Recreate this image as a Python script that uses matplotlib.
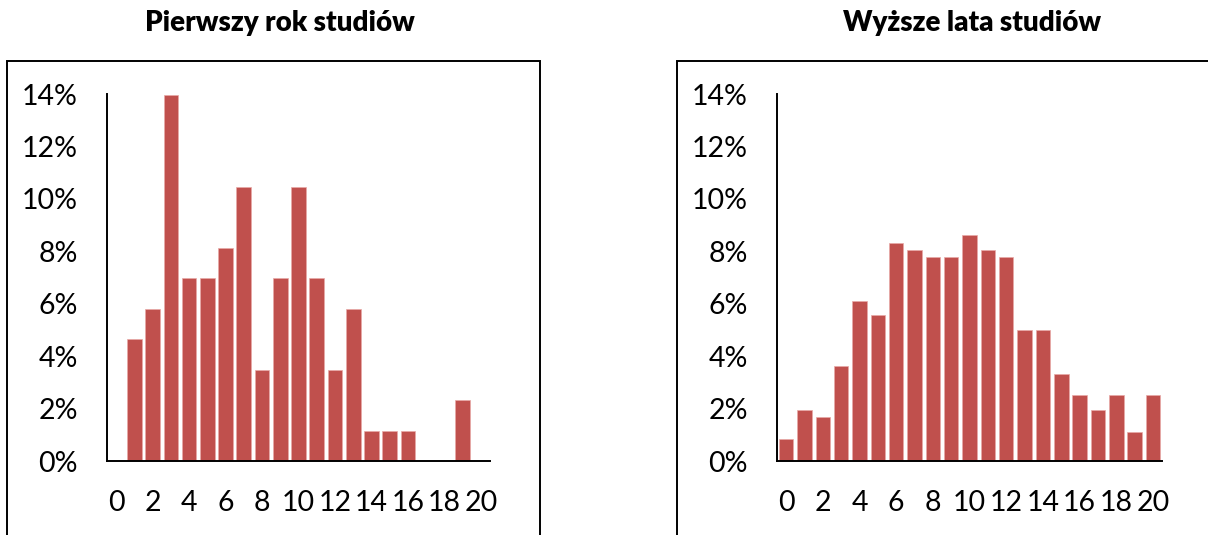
import matplotlib
matplotlib.use("Agg")
import matplotlib.pyplot as plt
from matplotlib.patches import Rectangle

plt.rcParams['font.family'] = ['Lato', 'DejaVu Sans']

# punkty (0-20) i odsetek studentow w %
points = list(range(21))
first_year = [0, 4.65, 5.81, 13.95, 6.98, 6.98, 8.14, 10.47, 3.49, 6.98, 10.47,
              6.98, 3.49, 5.81, 1.16, 1.16, 1.16, 0, 0, 2.33, 0]
later_years = [0.83, 1.94, 1.67, 3.61, 6.11, 5.56, 8.33, 8.06, 7.78, 7.78, 8.61,
               8.06, 7.78, 5.00, 5.00, 3.33, 2.50, 1.94, 2.50, 1.11, 2.50]

titles = ['Pierwszy rok studiów', 'Wyższe lata studiów']
yticks = [0, 2, 4, 6, 8, 10, 12, 14]
ytick_labels = ['0%', '2%', '4%', '6%', '8%', '10%', '12%', '14%']
xticks = [0, 2, 4, 6, 8, 10, 12, 14, 16, 18, 20]

W, H = 1208, 535
bar_color = '#C0504D'

fig = plt.figure(figsize=(W / 100, H / 100), dpi=100)

def px(x0, y0, x1, y1):
    # pixel box (top-left origin) -> figure fraction rect
    return [x0 / W, 1 - y1 / H, (x1 - x0) / W, (y1 - y0) / H]

panels = [
    (first_year, titles[0], (107, 94, 490, 461), (7, 61, 540), 280),
    (later_years, titles[1], (777, 94, 1162, 461), (677, 61, 1210), 972),
]

for data, title, box, frame, tx in panels:
    # outer chart frame (bottom edge cut off like in the original)
    fig.add_artist(Rectangle((frame[0] / W, -0.1), (frame[2] - frame[0]) / W,
                             1 - frame[1] / H + 0.1, transform=fig.transFigure,
                             fill=False, edgecolor='black', linewidth=1.4))
    fig.text(tx / W, 1 - 23 / H, title, ha='center', va='center',
             fontsize=20, fontweight='heavy')

    ax = fig.add_axes(px(*box))
    ax.bar(points, data, width=0.8, color=bar_color, edgecolor='#E8A9A7', linewidth=0.5)
    ax.set_xlim(-0.5, 20.5)
    ax.set_ylim(0, 14)
    ax.set_yticks(yticks)
    ax.set_yticklabels(ytick_labels)
    ax.set_xticks(xticks)
    ax.set_xticklabels([str(x) for x in xticks])
    ax.tick_params(axis='both', length=0, labelsize=20.5)
    ax.tick_params(axis='y', pad=21)
    ax.tick_params(axis='x', pad=21)
    for s in ['top', 'right']:
        ax.spines[s].set_visible(False)
    for s in ['left', 'bottom']:
        ax.spines[s].set_linewidth(1.4)
    ax.patch.set_alpha(0)

fig.savefig('out.png', dpi=100)
